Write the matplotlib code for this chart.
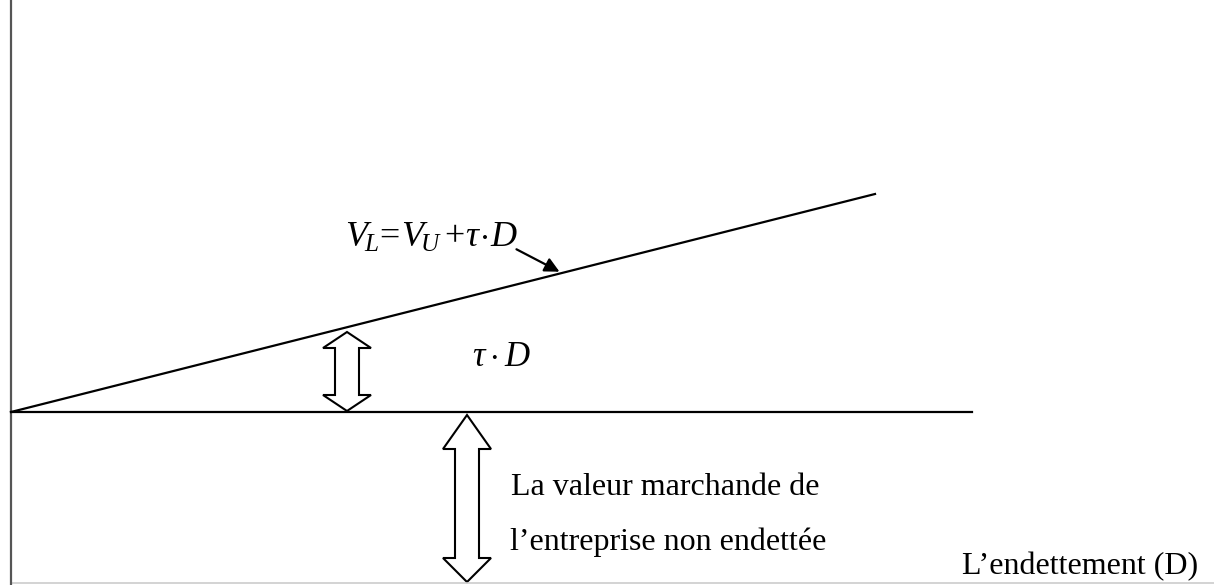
import matplotlib.pyplot as plt
from matplotlib.patches import Polygon

plt.rcParams["mathtext.fontset"] = "custom"
plt.rcParams["mathtext.rm"] = "Liberation Serif"
plt.rcParams["mathtext.it"] = "Liberation Serif:italic"

# diagram geometry (pixel-like units, y downwards)
axis_x = [11, 11]
axis_y = [0, 585]
base_x = [11, 972]
base_y = [412, 412]
vl_x = [11, 875]
vl_y = [412, 194]
bottom_x = [11, 1214]
bottom_y = [583, 583]

# double arrows: centre x, top tip, bottom tip, top head length, bottom head length
arrows = [
    (347, 332, 411, 16, 16),
    (467, 415, 582, 34, 24),
]
head_w = 48
shaft_w = 24

labels = [
    (r"$V_{\!L}\!=\!V_{\!U}\,\!+\!\tau\!\cdot\! D$", 345, 247, 26),
    (r"$\tau\,\!\cdot\,\! D$", 472, 366, 25),
]
texts = [
    ("La valeur marchande de", 511, 495),
    ("l\u2019entreprise non endettée", 510, 550),
    ("L\u2019endettement (D)", 962, 574),
]

fig = plt.figure(figsize=(12.14, 5.85), dpi=100)
ax = fig.add_axes([0, 0, 1, 1])
ax.set_xlim(0, 1214)
ax.set_ylim(585, 0)
ax.axis("off")

ax.plot(bottom_x, bottom_y, color="#cccccc", lw=1.2)
ax.plot(axis_x, axis_y, color="#555555", lw=1.6)
ax.plot(base_x, base_y, color="black", lw=1.6)
ax.plot(vl_x, vl_y, color="black", lw=1.6)

for cx, y0, y1, hl0, hl1 in arrows:
    pts = [
        (cx, y0),
        (cx + head_w / 2, y0 + hl0),
        (cx + shaft_w / 2, y0 + hl0),
        (cx + shaft_w / 2, y1 - hl1),
        (cx + head_w / 2, y1 - hl1),
        (cx, y1),
        (cx - head_w / 2, y1 - hl1),
        (cx - shaft_w / 2, y1 - hl1),
        (cx - shaft_w / 2, y0 + hl0),
        (cx - head_w / 2, y0 + hl0),
    ]
    ax.add_patch(Polygon(pts, closed=True, facecolor="white",
                         edgecolor="black", lw=1.5, joinstyle="miter"))

for s, x, y, fs in labels:
    ax.text(x, y, s, fontsize=fs, ha="left", va="baseline")

for s, x, y in texts:
    ax.text(x, y, s, fontsize=23, family="Liberation Serif",
            ha="left", va="baseline")

ax.annotate("", xy=(562, 273), xytext=(514, 248),
            arrowprops=dict(arrowstyle="-|>", color="black", lw=1.6,
                            mutation_scale=22))

fig.savefig("out.png", dpi=100)
